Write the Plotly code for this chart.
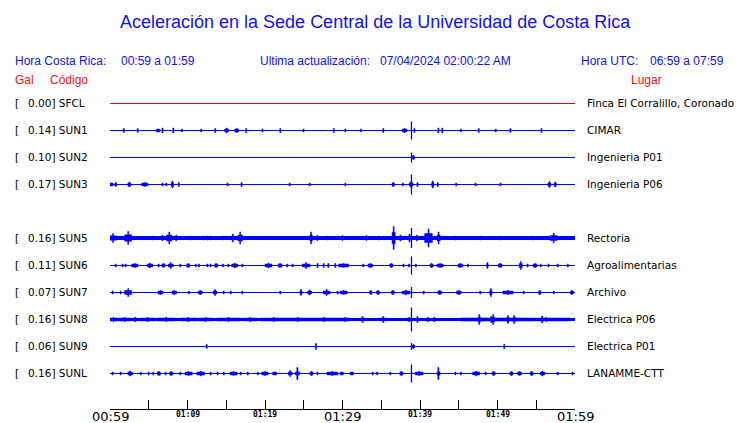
import plotly.graph_objects as go

# ---------------- data ----------------
codes = ["SFCL", "SUN1", "SUN2", "SUN3", "SUN5", "SUN6", "SUN7", "SUN8", "SUN9", "SUNL"]
gal = [0.00, 0.14, 0.10, 0.17, 0.16, 0.11, 0.07, 0.16, 0.06, 0.16]
places = ["Finca El Corralillo, Coronado", "CIMAR", "Ingenieria P01", "Ingenieria P06",
          "Rectoria", "Agroalimentarias", "Archivo", "Electrica P06", "Electrica P01",
          "LANAMME-CTT"]
slots = [0, 1, 2, 3, 5, 6, 7, 8, 9, 10]          # SUN4 slot is empty
line_colors = ["#ee0000"] + ["#0000ff"] * 9
line_widths = [1, 1, 1, 1, 4, 1, 1, 3, 1, 1]

# minutes after 00:59
tick_minutes = [0, 5, 10, 15, 20, 25, 30, 35, 40, 45, 50, 55, 60]
tick_labels = {0: "00:59", 10: "01:09", 20: "01:19", 30: "01:29", 40: "01:39", 50: "01:49", 60: "01:59"}
major_labels = ["00:59", "01:29", "01:59"]

event_t = 38.9
event_amp = [0, 9, 5, 10, 10, 9, 5.5, 12, 3.5, 9]

# bursts per station: (start minute, duration minutes, half amplitude)
bursts = {
    "SFCL": [],
    "SUN1": [(1.7, .15, 2), (3.5, .15, 2), (6.0, .4, 1.5), (6.7, .15, 2.5), (8.1, .15, 2.5),
             (9.2, .15, 1.5), (11.7, .15, 1.5), (13.5, .15, 2), (14.8, .5, 2.5), (16.1, .5, 2),
             (17.5, .15, 2), (19.6, .15, 1.5), (21.9, .15, 2), (24.9, .15, 1.5), (28.8, .15, 2),
             (30.3, .15, 1.5), (32.3, .15, 1.5), (35.2, .15, 2), (37.7, .6, 2), (39.2, .15, 2),
             (42.3, .15, 2.5), (42.8, .15, 2.5), (45.2, .15, 1.5), (47.5, .15, 2), (49.7, .15, 1.5),
             (51.6, .15, 2), (55.6, .15, 2)],
    "SUN2": [(39.0, .3, 2)],
    "SUN3": [(0.0, .4, 1.5), (0.65, .2, 2), (2.3, .4, 2.5), (4.1, .8, 2), (6.7, .15, 1.5),
             (7.2, .15, 1.5), (7.9, .3, 3.5), (8.8, .15, 2), (15.1, .15, 1.5), (16.9, .15, 2),
             (23.1, .15, 1.5), (25.7, .15, 1.5), (30.3, .15, 1.5), (36.4, .3, 2), (37.7, .15, 1.5),
             (38.6, .5, 3), (39.6, .15, 2), (41.5, .3, 3.5), (42.2, .15, 2), (44.6, .15, 1.5),
             (47.1, .15, 1.5), (50.3, .15, 1.5), (56.5, .4, 3), (57.3, .3, 2.5)],
    "SUN5": [(0.0, .8, 4.5), (1.9, .9, 6.5), (5.4, .15, 2), (6.4, .7, 3), (7.3, .7, 6),
             (8.4, .3, 3), (10.3, .15, 2), (12.0, .15, 2), (12.5, .15, 2), (12.9, .15, 2),
             (14.5, .15, 2), (15.7, .3, 4), (16.5, .6, 6), (25.8, .3, 6), (26.7, .15, 2.5),
             (28.0, .15, 2), (29.7, .6, 2.5), (32.9, .4, 2.5), (34.6, .15, 2), (36.4, .4, 11.5),
             (37.4, .15, 3), (38.5, .3, 4), (39.4, .4, 3), (40.6, 1.0, 9), (42.2, .4, 6),
             (44.5, .15, 2), (47.7, .15, 2), (50.3, .15, 2), (54.5, .15, 2), (56.8, .9, 5)],
    "SUN6": [(0.65, .15, 1.5), (1.55, .15, 1.5), (1.94, .15, 1.5), (2.8, .8, 2), (4.8, .7, 2.5),
             (6.2, .15, 1.5), (6.7, .4, 2), (7.5, .65, 3), (9.0, .15, 1.5), (9.9, .4, 2),
             (11.0, .15, 1.5), (11.4, .15, 1.5), (12.5, .15, 1.5), (12.9, .15, 1.5), (13.5, .4, 2),
             (14.5, .15, 1.5), (15.2, .15, 1.5), (15.7, .8, 2.5), (17.0, .15, 1.5), (20.0, .9, 2.5),
             (21.7, .5, 2), (22.8, .15, 1.5), (23.5, .15, 1.5), (24.8, 1.0, 3), (26.7, .15, 2),
             (27.5, .15, 2), (28.1, .15, 2), (29.0, .15, 2), (29.5, 1.3, 2), (32.6, .15, 1.5),
             (33.3, .6, 2), (36.1, .4, 2), (37.8, .15, 1.5), (38.5, .15, 1.5), (39.4, .15, 1.5),
             (41.3, .4, 2), (42.2, .8, 2), (44.9, .6, 2), (46.1, .15, 1.5), (48.6, .2, 3),
             (50.1, .5, 2), (52.8, .4, 4), (53.8, .15, 1.5), (54.6, .5, 2), (55.5, .15, 1.5),
             (56.5, .15, 1.5), (57.7, .15, 1.5), (59.0, .15, 1.5)],
    "SUN7": [(0.26, .15, 1.5), (1.29, .15, 1.5), (1.9, .9, 4), (6.2, .6, 2), (8.0, .6, 2),
             (10.1, .15, 1.5), (11.4, .5, 2), (13.3, .5, 3), (14.6, .15, 1.5), (15.5, .15, 1.5),
             (17.0, .15, 1.5), (21.9, .15, 1.5), (24.5, .3, 3), (25.5, .5, 2.5), (27.5, .9, 3),
             (29.3, .15, 1.5), (29.7, .9, 2), (33.5, .3, 2), (34.4, .4, 2), (36.3, .4, 2),
             (37.7, 1.0, 2.5), (40.4, .15, 1.5), (42.3, .5, 2), (44.7, .6, 2), (47.7, .15, 1.5),
             (49.0, .3, 4), (50.7, 1.3, 2), (53.3, .15, 1.5), (55.3, .3, 2), (57.2, .15, 1.5),
             (59.4, .4, 2)],
    "SUN8": [(0.0, .9, 2.2), (1.0, 1.8, 2.2), (3.0, .5, 2.2), (3.9, 1.9, 2.2), (6.1, 2.3, 2.2),
             (9.0, 2.2, 2.2), (11.4, 1.9, 2.2), (13.8, 3.0, 2.2), (17.2, 1.8, 2.2), (19.4, 3.5, 2.2),
             (23.0, 2.5, 2.2), (25.5, 4.2, 2.2), (29.7, 1.3, 2.2), (32.3, .6, 3), (34.8, .9, 3),
             (38.3, .6, 2.2), (39.6, .15, 3), (40.9, .3, 2.2), (41.7, .3, 2.2), (45.2, 8.0, 3.2),
             (47.5, .3, 5), (49.3, .3, 5), (51.2, .3, 4), (52.0, .3, 4), (53.2, 6.2, 2.2),
             (55.7, .15, 3.5)],
    "SUN9": [(12.4, .15, 2), (26.5, .15, 3), (39.0, .3, 2), (50.8, .15, 2)],
    "SUNL": [(0.26, .15, 1.5), (1.29, .15, 1.5), (2.3, .6, 2.5), (3.9, .15, 1.5), (4.9, .15, 1.5),
             (5.5, .15, 1.5), (6.1, .4, 2), (7.1, .15, 1.5), (7.7, .4, 2), (9.0, .15, 1.5),
             (9.7, .9, 2), (11.2, 1.0, 2.5), (12.9, .15, 1.5), (13.8, .15, 1.5), (14.6, .15, 1.5),
             (15.5, .9, 2), (16.8, .15, 1.5), (17.7, .15, 1.5), (19.0, .15, 1.5), (19.6, .8, 2),
             (21.0, .5, 1.5), (23.0, .5, 3), (23.9, .6, 2.5), (24.1, .15, 6), (25.8, .4, 2),
             (26.7, .15, 1.5), (28.0, 1.4, 2), (29.7, .4, 1.5), (31.0, .4, 1.5), (33.8, .15, 1.5),
             (34.4, .15, 1.5), (36.1, .15, 1.5), (37.4, .4, 2), (39.4, 1.0, 2), (42.2, .4, 2),
             (42.3, .15, 6), (44.5, .15, 1.5), (45.2, .15, 1.5), (46.8, .9, 2.5), (48.4, .15, 1.5),
             (49.3, .4, 2), (51.6, .4, 2), (52.6, .5, 2), (54.2, .4, 2), (55.5, .6, 2.5),
             (57.7, .15, 1.5), (59.6, .15, 1.5)],
}

# ---------------- layout helpers ----------------
W, H = 740, 423
PL, PR = 110, 575          # plot area left/right (px)
ROW0, ROWSTEP = 103, 27    # first trace baseline, spacing (px)
AXIS_Y = 409
SPIKE_W = 0.13             # minutes, width of a single spike


def pxx(x):
    return (x - PL) / (PR - PL)


def pxy(y):
    return 1 - y / H


fig = go.Figure()

for i, code in enumerate(codes):
    base = ROW0 + ROWSTEP * slots[i]
    yb = base + (0.5 if line_widths[i] % 2 == 1 else 0.0)   # crisp pixel lines
    col = line_colors[i]
    fig.add_trace(go.Scatter(x=[tick_minutes[0], tick_minutes[-1]], y=[yb, yb], mode="lines",
                             line=dict(color=col, width=line_widths[i]), hoverinfo="skip",
                             showlegend=False))
    xs, ys = [], []
    for (t0, d, a) in bursts[code]:
        t1 = min(t0 + d, tick_minutes[-1])
        tm = (t0 + t1) / 2
        lo = max(1.5, a * 0.5) if d > SPIKE_W * 1.5 else a
        # body of the burst
        xs += [t0, t1, t1, t0, t0, None]
        ys += [yb - lo, yb - lo, yb + lo, yb + lo, yb - lo, None]
        # peak spike
        if lo < a:
            s0, s1 = tm - SPIKE_W / 2, tm + SPIKE_W / 2
            xs += [s0, s1, s1, s0, s0, None]
            ys += [yb - a, yb - a, yb + a, yb + a, yb - a, None]
    if xs:
        fig.add_trace(go.Scatter(x=xs, y=ys, mode="lines", fill="toself", fillcolor=col,
                                 line=dict(color=col, width=0.5), hoverinfo="skip",
                                 showlegend=False))
    if event_amp[i] > 0:
        fig.add_trace(go.Scatter(x=[event_t, event_t], y=[yb - event_amp[i], yb + event_amp[i]],
                                 mode="lines", line=dict(color=col, width=1.3), hoverinfo="skip",
                                 showlegend=False))

BLUE = "#1010f0"
RED = "#f01010"
SANS = "Liberation Sans, Arial, sans-serif"
DJV = "DejaVu Sans, sans-serif"

ann = []


def text(x, y, s, size, color, font=SANS, xanchor="left"):
    ann.append(dict(x=pxx(x), y=pxy(y), xref="paper", yref="paper", text=s, showarrow=False,
                    xanchor=xanchor, yanchor="middle", font=dict(family=font, size=size, color=color),
                    borderpad=0))


text(375, 22, "Aceleración en la Sede Central de la Universidad de Costa Rica", 18, BLUE, xanchor="center")
text(14, 61, "Hora Costa Rica:", 12, BLUE)
text(120, 61, "00:59 a 01:59", 12, BLUE)
text(259, 61, "Ultima actualización:", 12, BLUE)
text(379, 61, "07/04/2024 02:00:22 AM", 12, BLUE)
text(580, 61, "Hora UTC:", 12, BLUE)
text(649, 61, "06:59 a 07:59", 12, BLUE)
text(14, 80, "Gal", 12, RED)
text(49, 80, "Código", 12, RED)
text(646, 80, "Lugar", 12, RED, xanchor="center")

for i, code in enumerate(codes):
    base = ROW0 + ROWSTEP * slots[i]
    text(14, base, "[", 10.5, "black", DJV)
    text(27, base, f"{gal[i]:.2f}] {code}", 10.5, "black", DJV)
    text(586, base, places[i], 10.5, "black", DJV)

for m, lab in tick_labels.items():
    if lab in major_labels:
        text(PL + (PR - PL) * m / 60, 416, lab, 13, "black", DJV, xanchor="center")
    else:
        text(PL + (PR - PL) * m / 60, 414, f"<b>{lab}</b>", 8, "black",
             "DejaVu Sans Mono, monospace", xanchor="center")

fig.update_layout(
    width=W, height=H, margin=dict(l=PL, r=W - PR, t=0, b=0),
    paper_bgcolor="white", plot_bgcolor="white", annotations=ann,
    xaxis=dict(range=[tick_minutes[0], tick_minutes[-1]], anchor="free", position=(H - AXIS_Y) / H,
               showline=True, linecolor="black", linewidth=1, ticks="inside", ticklen=9,
               tickcolor="black", tickwidth=1, tickvals=tick_minutes, showticklabels=False,
               showgrid=False, zeroline=False, fixedrange=True),
    yaxis=dict(range=[H, 0], visible=False, showgrid=False, zeroline=False, fixedrange=True),
)

fig.write_html("out.html", config={"displayModeBar": False},
               post_script="document.body.style.margin='0';document.body.style.overflow='hidden';")
